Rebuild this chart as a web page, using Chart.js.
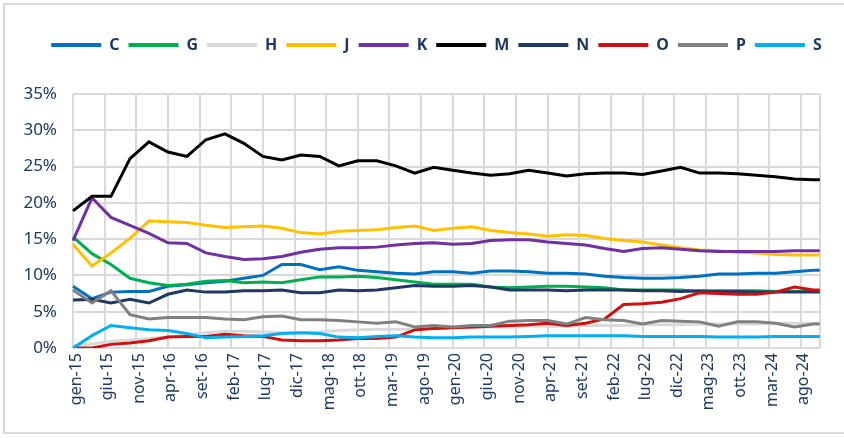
<!DOCTYPE html>
<html>
<head>
<meta charset="utf-8">
<script src="https://cdn.jsdelivr.net/npm/chart.js@4"></script>
<style>
  html, body { margin: 0; padding: 0; background: #fff; }
  #wrap { position: relative; width: 844px; height: 438px; overflow: hidden; }
  #cornice { position: absolute; left: 3px; top: 3px; width: 860px; height: 431px; border: 2px solid #d9d9d9; box-sizing: border-box; }
  canvas { position: absolute; left: 0; top: 0; }
</style>
</head>
<body>
<div id="wrap">
  <div id="cornice"></div>
  <canvas id="grafico" width="844" height="438"></canvas>
</div>
<script>
// etichette mensili gen-15 ... nov-24
const mesi = ['gen', 'feb', 'mar', 'apr', 'mag', 'giu', 'lug', 'ago', 'set', 'ott', 'nov', 'dic'];
const etichette = [];
for (let a = 15; a <= 24; a++) {
  for (let m = 0; m < 12; m++) {
    if (a === 24 && m > 10) break;
    etichette.push(mesi[m] + '-' + a);
  }
}

// punti trimestrali (gen, apr, lug, ott) + ultimo mese
const mesiPunti = [];
for (let i = 0; i <= 117; i += 3) mesiPunti.push(etichette[i]);
mesiPunti.push(etichette[118]);

const serieC = [8.5, 6.8, 7.7, 7.8, 7.8, 8.5, 8.7, 9.0, 9.2, 9.6, 10.0, 11.5, 11.5, 10.8, 11.2, 10.7, 10.5, 10.3, 10.2, 10.5, 10.5, 10.3, 10.6, 10.6, 10.5, 10.3, 10.3, 10.2, 9.9, 9.7, 9.6, 9.6, 9.7, 9.9, 10.2, 10.2, 10.3, 10.3, 10.5, 10.7, 10.7];
const serieG = [15.3, 13.0, 11.5, 9.6, 9.0, 8.6, 8.8, 9.2, 9.3, 9.0, 9.1, 9.0, 9.4, 9.8, 9.8, 9.9, 9.7, 9.4, 9.1, 8.8, 8.8, 8.8, 8.4, 8.3, 8.4, 8.5, 8.5, 8.4, 8.3, 8.0, 8.0, 8.0, 8.0, 7.8, 7.9, 7.9, 7.9, 7.8, 7.8, 7.8, 7.8];
const serieH = [0.3, 0.6, 0.9, 1.1, 1.3, 1.5, 1.8, 2.1, 2.3, 2.3, 2.2, 2.1, 2.1, 2.2, 2.4, 2.5, 2.6, 2.6, 2.6, 2.7, 2.8, 2.8, 2.9, 2.9, 3.0, 3.0, 3.0, 3.1, 3.1, 3.1, 3.2, 3.2, 3.2, 3.3, 3.3, 3.3, 3.3, 3.4, 3.4, 3.4, 3.4];
const serieJ = [14.3, 11.3, 13.1, 15.1, 17.5, 17.4, 17.3, 16.9, 16.6, 16.7, 16.8, 16.5, 15.9, 15.7, 16.1, 16.2, 16.3, 16.6, 16.8, 16.2, 16.5, 16.7, 16.2, 15.9, 15.7, 15.4, 15.6, 15.5, 15.1, 14.8, 14.6, 14.2, 13.8, 13.5, 13.4, 13.2, 13.1, 12.9, 12.8, 12.8, 12.8];
const serieK = [14.8, 20.7, 18.0, 16.9, 15.8, 14.5, 14.4, 13.1, 12.6, 12.2, 12.3, 12.6, 13.2, 13.6, 13.8, 13.8, 13.9, 14.2, 14.4, 14.5, 14.3, 14.4, 14.8, 14.9, 14.9, 14.6, 14.4, 14.2, 13.7, 13.3, 13.7, 13.8, 13.6, 13.4, 13.3, 13.3, 13.3, 13.3, 13.4, 13.4, 13.4];
const serieM = [18.9, 20.9, 20.9, 26.1, 28.4, 27.0, 26.4, 28.7, 29.5, 28.2, 26.4, 25.9, 26.6, 26.4, 25.1, 25.8, 25.8, 25.1, 24.1, 24.9, 24.5, 24.1, 23.8, 24.0, 24.5, 24.1, 23.7, 24.0, 24.1, 24.1, 23.9, 24.4, 24.9, 24.1, 24.1, 24.0, 23.8, 23.6, 23.3, 23.2, 23.2];
const serieN = [6.6, 6.7, 6.2, 6.7, 6.2, 7.4, 8.0, 7.7, 7.7, 7.9, 7.9, 8.0, 7.6, 7.6, 8.0, 7.9, 8.0, 8.3, 8.6, 8.5, 8.5, 8.6, 8.4, 8.0, 8.0, 8.0, 7.9, 8.0, 8.0, 8.0, 7.9, 7.9, 7.8, 7.9, 7.8, 7.8, 7.7, 7.7, 7.7, 7.7, 7.7];
const serieO = [0.0, 0.0, 0.5, 0.7, 1.0, 1.5, 1.6, 1.6, 1.9, 1.7, 1.6, 1.1, 1.0, 1.0, 1.1, 1.3, 1.3, 1.5, 2.5, 2.7, 2.8, 2.9, 3.0, 3.1, 3.2, 3.4, 3.1, 3.4, 4.0, 6.0, 6.1, 6.3, 6.8, 7.6, 7.5, 7.4, 7.4, 7.7, 8.4, 8.0, 8.0];
const serieP = [8.0, 6.2, 7.9, 4.6, 4.0, 4.2, 4.2, 4.2, 4.0, 3.9, 4.3, 4.4, 3.9, 3.9, 3.8, 3.6, 3.4, 3.6, 2.9, 3.1, 2.9, 3.1, 3.1, 3.7, 3.8, 3.8, 3.3, 4.2, 3.9, 3.8, 3.3, 3.8, 3.7, 3.6, 3.0, 3.6, 3.6, 3.4, 2.9, 3.3, 3.3];
const serieS = [0.0, 1.7, 3.1, 2.8, 2.5, 2.4, 2.0, 1.4, 1.5, 1.6, 1.7, 2.0, 2.1, 2.0, 1.5, 1.4, 1.6, 1.7, 1.5, 1.4, 1.4, 1.5, 1.5, 1.5, 1.6, 1.7, 1.7, 1.7, 1.7, 1.7, 1.6, 1.6, 1.6, 1.6, 1.5, 1.5, 1.5, 1.6, 1.6, 1.6, 1.6];

const nomi = ['C', 'G', 'H', 'J', 'K', 'M', 'N', 'O', 'P', 'S'];
const valori = [serieC, serieG, serieH, serieJ, serieK, serieM, serieN, serieO, serieP, serieS];
const colori = ['#0070C0', '#00B050', '#D9D9D9', '#FFC000', '#7030A0', '#000000', '#203864', '#D01010', '#808080', '#00B0F0'];

const testo = '#1F3864';
const griglia = '#d9d9d9';

// altezza fissa della legenda, spostata un po' a destra
const legendaAlta = {
  id: 'legendaAlta',
  beforeInit(chart) {
    const fitOrig = chart.legend.fit;
    chart.legend.fit = function() {
      fitOrig.call(this);
      this.height = 66;
    };
  },
  afterLayout(chart) {
    chart.legend.left += 18;
    chart.legend.right += 18;
  }
};

const ctx = document.getElementById('grafico').getContext('2d');
new Chart(ctx, {
  type: 'line',
  data: {
    labels: etichette,
    datasets: nomi.map((n, i) => ({
      label: n,
      data: valori[i].map((v, k) => ({ x: mesiPunti[k], y: v })),
      borderColor: colori[i],
      backgroundColor: colori[i],
      borderWidth: 3,
      pointRadius: 0,
      tension: 0,
      fill: false,
      order: -i
    }))
  },
  options: {
    responsive: false,
    animation: false,
    layout: { padding: { top: 28, right: 7, bottom: 2, left: 0 } },
    plugins: {
      tooltip: { enabled: false },
      legend: {
        position: 'top',
        labels: {
          boxWidth: 50,
          boxHeight: 4,
          padding: 9,
          color: testo,
          font: { family: 'Noto Sans', size: 16, weight: 'bold' },
          sort: (a, b) => a.datasetIndex - b.datasetIndex,
          generateLabels: (chart) => Chart.defaults.plugins.legend.labels.generateLabels(chart)
            .map(l => Object.assign(l, { lineWidth: 0 }))
        }
      }
    },
    scales: {
      x: {
        type: 'category',
        offset: false,
        grid: {
          color: (c) => (c.index % 5 === 0 || c.index === etichette.length - 1) ? griglia : 'rgba(0,0,0,0)',
          lineWidth: 2,
          drawTicks: false
        },
        border: { display: false },
        ticks: {
          autoSkip: false,
          minRotation: 90,
          maxRotation: 90,
          padding: 5,
          labelOffset: 3,
          color: testo,
          font: { family: 'Noto Sans', size: 16 },
          callback: (v, i) => i % 5 === 0 ? etichette[i] : ''
        },
        afterFit: (s) => { s.height = 88; }
      },
      y: {
        min: 0,
        max: 35,
        grid: { color: griglia, lineWidth: 2, drawTicks: false },
        border: { display: false },
        ticks: {
          stepSize: 5,
          padding: 16,
          color: testo,
          font: { family: 'Noto Sans', size: 17 },
          callback: (v) => v + '%'
        },
        afterFit: (s) => { s.width = 73; }
      }
    }
  },
  plugins: [legendaAlta]
});
</script>
</body>
</html>
